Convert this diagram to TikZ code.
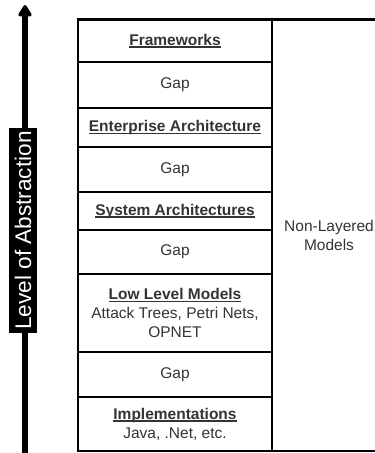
\documentclass[tikz,border=0pt]{standalone}
\usepackage{fontspec}
\setmainfont{Liberation Sans}
\usetikzlibrary{arrows.meta}
\usetikzlibrary{positioning}

\newsavebox{\headbox}
\newcommand{\layerhead}[1]{\sbox{\headbox}{\textbf{#1}}\rlap{\rule[-2.6pt]{\wd\headbox}{1.3pt}}\usebox{\headbox}}

\begin{document}
\begin{tikzpicture}[x=1pt,y=1pt,line join=miter,
    >={Triangle[width=15pt,length=13pt,round]},
    layer/.style={draw,line width=2.6pt,minimum width=194pt,inner sep=0pt,outer sep=0pt,
      align=center,text=black!80,font=\fontsize{15.5}{19}\selectfont}]
        \useasboundingbox (0,0) rectangle (375,-453);
        % level arrow
        \coordinate (abot) at (25,-453);
        \coordinate (atop) at (25,-5);
        \draw[->,line width=6pt] (abot) -- (atop);
        \node[fill=black,text=white,rotate=90,minimum width=205pt,minimum height=28pt,
          inner sep=0pt,font=\fontsize{22.6}{24}\selectfont] (level) at (23,-230.5) {Level of Abstraction};
        % 
        \node[layer,minimum height=42.5pt,anchor=north] (frame) at (175,-19.5) {\layerhead{Frameworks}};
        \node[layer,minimum height=46pt,below=0pt of frame] (gapa) {Gap};
        \node[layer,minimum height=39pt,below=0pt of gapa] (enter) {\layerhead{Enterprise Architecture}};
        \node[layer,minimum height=45pt,below=0pt of enter] (gapb) {Gap};
        \node[layer,minimum height=38pt,below=0pt of gapb] (sysarch) {\layerhead{System Architectures}};
        \node[layer,minimum height=44pt,below=0pt of sysarch] (gapc) {Gap};
        \node[layer,minimum height=78pt,below=0pt of gapc] (lowlev) {\layerhead{Low Level Models}\\Attack Trees, Petri Nets,\\OPNET};
        \node[layer,minimum height=45pt,below=0pt of lowlev] (gapd) {Gap};
        \node[layer,minimum height=54pt,below=0pt of gapd] (impl) {\layerhead{Implementations}\\Java, .Net, etc.};
        % 
        \node[layer,minimum width=114pt,minimum height=431.5pt,anchor=north west] (nonlay) at (frame.north east) {Non-Layered\\Models};
      \end{tikzpicture}
\end{document}
